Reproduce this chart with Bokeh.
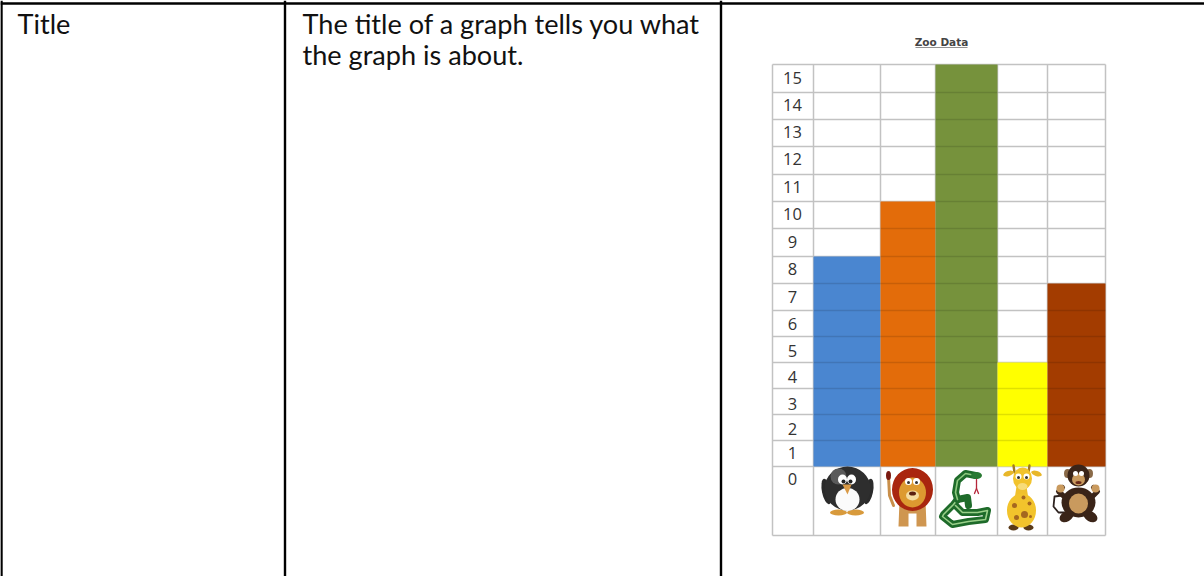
from bokeh.plotting import figure
from bokeh.models import ColumnDataSource
from bokeh.core.properties import value
from bokeh.embed import file_html
from bokeh.resources import INLINE

# ---- data
categories = ["Penguin", "Lion", "Snake", "Giraffe", "Monkey"]
counts = [8, 10, 15, 4, 7]
bar_colors = ["#4a86d0", "#e36c0a", "#76923c", "#ffff00", "#a33c00"]
row_labels = [str(i) for i in range(16)]
chart_title = "Zoo Data"
table_term = "Title"
table_text = ["The title of a graph tells you what", "the graph is about."]

# ---- layout of the pictured table (page pixels)
row_edges = [466, 440, 414, 388, 362, 336, 310, 283, 256, 228, 201, 174, 146, 119, 92, 64]
col_edges = [813, 880, 935, 997, 1047, 1105]
grid_left, grid_bottom = 772, 535
row_label_y = [478, 452, 428, 403, 376, 350, 323, 296, 268, 241, 213, 186, 158, 131, 104, 77]

p = figure(width=1204, height=576, x_range=(0, 1204), y_range=(576, 0),
           output_backend="svg", toolbar_location=None, min_border=0,
           outline_line_color=None, background_fill_color="white")
p.axis.visible = False
p.grid.visible = False

# table rules
p.segment([0, 284.5, 720.5, 1], [3, 0, 0, 0], [1204, 284.5, 720.5, 1], [3, 576, 576, 576],
          line_color="black", line_width=2.4)

# table text
body_font = value("Lato")
p.text([17], [23], text=[table_term], text_font=body_font, text_font_size="27.1px",
       text_color="#111111", text_baseline="middle")
p.text([302, 302], [23, 54], text=table_text, text_font=body_font, text_font_size="27.1px",
       text_color="#111111", text_baseline="middle")

# chart title
p.text([941], [41.5], text=[chart_title], text_font=value("DejaVu Sans"), text_font_size="10.5px",
       text_font_style="bold", text_color="#444444", text_align="center", text_baseline="middle")
p.segment([915], [47], [967], [47], line_color="#777777", line_width=1.2, line_alpha=0.8)

# grid
grid = "#c2c2c2"
xs = [grid_left] + col_edges
p.segment(xs, [row_edges[-1]] * len(xs), xs, [grid_bottom] * len(xs), line_color=grid, line_width=1.5)
p.segment([grid_left] * 2, [row_edges[-1], grid_bottom], [col_edges[-1]] * 2, [row_edges[-1], grid_bottom],
          line_color=grid, line_width=1.5)
inner = row_edges[:-1]
p.segment([grid_left] * len(inner), inner, [col_edges[-1]] * len(inner), inner,
          line_color=grid, line_width=1.5)

# bars
src = ColumnDataSource(dict(
    name=categories,
    left=col_edges[:-1],
    right=col_edges[1:],
    top=[row_edges[c] for c in counts],
    bottom=[row_edges[0]] * len(counts),
    color=bar_colors,
))
p.quad(left="left", right="right", top="top", bottom="bottom", fill_color="color",
       line_color=None, source=src)

# row rules showing through the bars
for left, right, c in zip(col_edges[:-1], col_edges[1:], counts):
    edges = row_edges[1:c]
    p.segment([left] * len(edges), edges, [right] * len(edges), edges,
              line_color="#000000", line_width=1.5, line_alpha=0.12)

# row labels
p.text([792] * len(row_labels), row_label_y, text=row_labels, text_font=value("Open Sans"),
       text_font_size="16.5px", text_color="#333333", text_align="center", text_baseline="middle")

# ---- pictures under the bars
def blob(x, y, w, h, c, angle=0):
    p.ellipse([x], [y], width=[w], height=[h], angle=angle, fill_color=c, line_color=None)

def path(x, y, c, w):
    p.line(x, y, line_color=c, line_width=w, line_cap="round", line_join="round")

# penguin
blob(838, 512, 17, 6, "#d89a3c"); blob(855, 512, 17, 6, "#d89a3c")
blob(826, 491, 9, 26, "#2b2b2b", 0.2); blob(868, 491, 9, 26, "#2b2b2b", -0.2)
blob(847, 488, 46, 44, "#2e2e2e")
blob(838, 476, 16, 16, "#5a5a5a")
blob(847, 499, 24, 23, "#fbfbfb")
blob(842, 479, 9, 10, "white"); blob(851, 479, 9, 10, "white")
blob(843, 481, 4, 4, "#222222"); blob(850, 481, 4, 4, "#222222")
p.patch([842, 851, 847], [484, 484, 494], fill_color="#d99a46", line_color=None)

# lion
path([893, 889, 888], [505, 495, 476], "#c98f4a", 3)
blob(888, 475, 5, 9, "#7a1a10")
p.patch([899, 925, 926, 916, 916, 908, 908, 898], [500, 500, 526, 526, 513, 513, 526, 526],
        fill_color="#cf9650", line_color=None)
blob(912, 489, 41, 43, "#a9260f")
blob(912, 492, 27, 30, "#dd9a30")
blob(908, 481, 7, 7, "white"); blob(916, 481, 7, 7, "white")
blob(908, 482, 3, 3, "#333333"); blob(916, 482, 3, 3, "#333333")
blob(912, 495, 13, 10, "#f4dca0")
blob(912, 493, 7, 4, "#5a2010")

# snake
coil_x = [957, 953, 943, 942, 952, 968, 985, 987, 977, 962, 955]
coil_y = [499, 504, 514, 516, 524, 521, 519, 510, 512, 512, 505]
neck_x = [975, 965, 957, 955, 957, 967, 968]
neck_y = [475, 473, 480, 492, 499, 497, 505]
path(coil_x, coil_y, "#1e6b2a", 7)
path(coil_x, coil_y, "#9ad08a", 1.6)
path(neck_x, neck_y, "#1e6b2a", 7)
path(neck_x[:5], neck_y[:5], "#8ec97f", 1.6)
blob(976, 475, 11, 7, "#2a7a33")
path([976, 976, 974], [479, 488, 493], "#b5263a", 1.3)
path([976, 978], [488, 493], "#b5263a", 1.3)

# giraffe
path([1014, 1013], [472, 465], "#a07a20", 2.4); path([1028, 1029], [472, 465], "#a07a20", 2.4)
blob(1008, 473, 11, 5, "#e8b72a", 0.3); blob(1036, 473, 11, 5, "#e8b72a", -0.3)
p.patch([1016, 1026, 1029, 1013], [486, 486, 505, 505], fill_color="#f0c02c", line_color=None)
blob(1013, 527, 10, 6, "#5a3a18"); blob(1028, 527, 10, 6, "#5a3a18")
blob(1021, 510, 29, 34, "#f2c32c")
blob(1022, 478, 19, 22, "#f2c32c")
blob(1022, 486, 10, 7, "#f7dc7a")
blob(1018, 476, 6, 6, "white"); blob(1026, 476, 6, 6, "white")
blob(1018, 477, 3, 3, "#333333"); blob(1026, 477, 3, 3, "#333333")
for sx, sy, sr in [(1014, 505, 5), (1024, 514, 7), (1029, 503, 4), (1016, 517, 5), (1023, 497, 4), (1030, 516, 3)]:
    blob(sx, sy, sr, sr, "#a5671f")

# monkey
path([1062, 1054, 1053, 1058, 1066], [495, 496, 506, 512, 512], "#2e2320", 1.8)
path([1066, 1058, 1062], [498, 491, 487], "#3a2418", 5)
path([1090, 1097, 1093], [498, 491, 487], "#3a2418", 5)
blob(1060, 488, 8, 8, "#c99a5e"); blob(1095, 488, 8, 8, "#c99a5e")
blob(1066, 516, 15, 10, "#3a2418", 0.5); blob(1090, 516, 15, 10, "#3a2418", -0.5)
blob(1078, 502, 34, 30, "#3a2418")
blob(1078, 503, 19, 20, "#c99a5e")
blob(1067, 473, 7, 9, "#8a6a48"); blob(1089, 473, 7, 9, "#8a6a48")
blob(1078, 475, 22, 22, "#3a2418")
blob(1078, 479, 13, 12, "#c99a5e")
blob(1075, 473, 5, 5, "white"); blob(1081, 473, 5, 5, "white")
blob(1078, 482, 6, 3, "#6b2a1a")

html = file_html(p, INLINE).replace("<head>", "<head><style>html,body{margin:0 !important;overflow:hidden}</style>", 1)
open("out.html", "w").write(html)
